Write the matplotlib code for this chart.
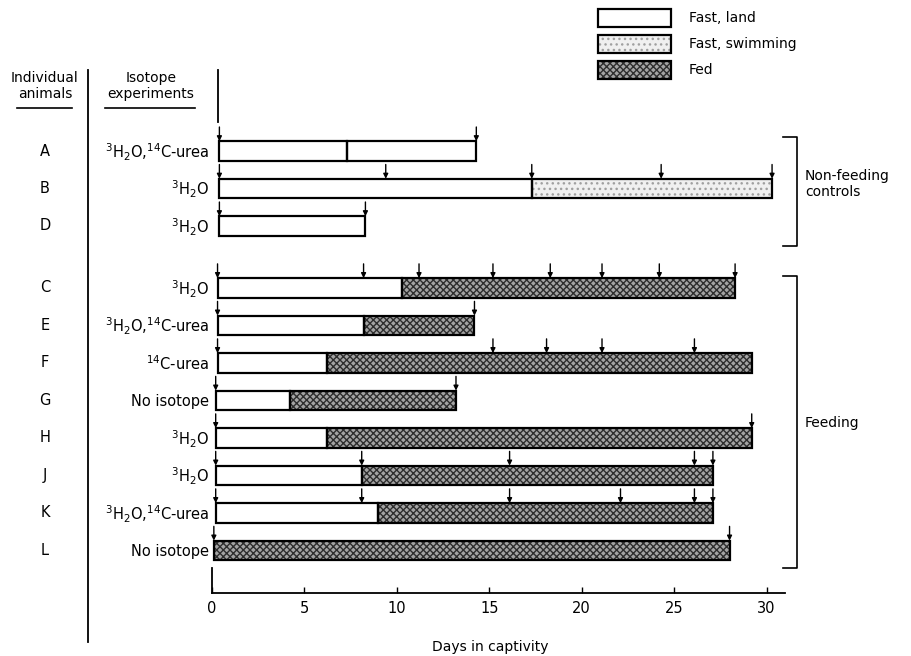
import matplotlib
matplotlib.use("Agg")
import matplotlib.pyplot as plt
from matplotlib.patches import Rectangle

plt.rcParams['font.family'] = ['DejaVu Sans']
plt.rcParams['mathtext.default'] = 'regular'

# ---------------- data ----------------
animals = ['A', 'B', 'D', 'C', 'E', 'F', 'G', 'H', 'J', 'K', 'L']
isotopes = ['$^3$H$_2$O,$^{14}$C-urea', '$^3$H$_2$O', '$^3$H$_2$O',
            '$^3$H$_2$O', '$^3$H$_2$O,$^{14}$C-urea', '$^{14}$C-urea',
            'No isotope', '$^3$H$_2$O', '$^3$H$_2$O',
            '$^3$H$_2$O,$^{14}$C-urea', 'No isotope']
row_pos = [0, 1, 2, 3.65, 4.65, 5.65, 6.65, 7.65, 8.65, 9.65, 10.65]

# segments per animal: (start day, end day, kind)
segments = [
    [(0.4, 7.3, 'land'), (7.3, 14.3, 'land')],
    [(0.4, 17.3, 'land'), (17.3, 30.3, 'swim')],
    [(0.4, 8.3, 'land')],
    [(0.3, 10.3, 'land'), (10.3, 28.3, 'fed')],
    [(0.3, 8.2, 'land'), (8.2, 14.2, 'fed')],
    [(0.3, 6.2, 'land'), (6.2, 29.2, 'fed')],
    [(0.2, 4.2, 'land'), (4.2, 13.2, 'fed')],
    [(0.2, 6.2, 'land'), (6.2, 29.2, 'fed')],
    [(0.2, 8.1, 'land'), (8.1, 27.1, 'fed')],
    [(0.2, 9.0, 'land'), (9.0, 27.1, 'fed')],
    [(0.1, 28.0, 'fed')],
]
# isotope injection / sampling arrows (days)
arrows = [
    [0.4, 14.3],
    [0.4, 9.4, 17.3, 24.3, 30.3],
    [0.4, 8.3],
    [0.3, 8.2, 11.2, 15.2, 18.3, 21.1, 24.2, 28.3],
    [0.3, 14.2],
    [0.3, 15.2, 18.1, 21.1, 26.1],
    [0.2, 13.2],
    [0.2, 29.2],
    [0.2, 8.1, 16.1, 26.1, 27.1],
    [0.2, 8.1, 16.1, 22.1, 26.1, 27.1],
    [0.1, 28.0],
]
legend_labels = ['Fast, land', 'Fast, swimming', 'Fed']
xticks = [0, 5, 10, 15, 20, 25, 30]

styles = {
    'land': dict(face='white', hatch=None, hcol='white'),
    'swim': dict(face='#f0f0f0', hatch='...', hcol='#a0a0a0'),
    'fed': dict(face='#a4a4a4', hatch='xxxxx', hcol='#2e2e2e'),
}

W, H = 912, 656
fig = plt.figure(figsize=(W / 100, H / 100), dpi=100)

# main axes in pixel placement
px_left, px_right, px_top, px_bot = 212, 785, 70, 593
ax = fig.add_axes([px_left / W, 1 - px_bot / H, (px_right - px_left) / W,
                   (px_bot - px_top) / H])
unit = 37.5
ytop = -2.16
ybot = ytop + (px_bot - px_top) / unit
ax.set_xlim(0, 31)
ax.set_ylim(ybot, ytop)
bh = 0.52


def draw_bar(a, y, x0, x1, kind, lw=1.6):
    st = styles[kind]
    a.barh(y, x1 - x0, left=x0, height=bh, color=st['face'],
           hatch=st['hatch'], edgecolor=st['hcol'], linewidth=0, zorder=2)
    a.barh(y, x1 - x0, left=x0, height=bh, fill=False,
           edgecolor='black', linewidth=lw, zorder=3)


for y, segs in zip(row_pos, segments):
    for x0, x1, kind in segs:
        draw_bar(ax, y, x0, x1, kind)

for y, arr in zip(row_pos, arrows):
    for xa in arr:
        ax.annotate('', xy=(xa, y - bh / 2), xytext=(xa, y - bh / 2 - 0.38),
                    arrowprops=dict(arrowstyle='-|>', color='black', lw=1.0,
                                    mutation_scale=7, shrinkA=0, shrinkB=0),
                    zorder=4)

# axes styling
for s in ['top', 'right', 'left']:
    ax.spines[s].set_visible(False)
ax.spines['bottom'].set_linewidth(1.3)
ax.set_xticks(xticks)
ax.set_xticklabels([str(t) for t in xticks], fontsize=10.5)
ax.tick_params(axis='x', direction='in', length=4, width=1, pad=6)
ax.set_yticks([])
ax.set_xlabel('Days in captivity', fontsize=10, labelpad=14)
ax.xaxis.set_label_coords(0.485, -0.09)
# short vertical pieces of the frame
ax.plot([0, 0], [ybot - 0.67, ybot], color='black', lw=1.3, clip_on=False)
ax.plot([0.32, 0.32], [ytop, ytop + 1.38], color='black', lw=1.3,
        clip_on=False)

# ------------- overlay in pixel coordinates -------------
ov = fig.add_axes([0, 0, 1, 1], facecolor='none')
ov.set_xlim(0, W)
ov.set_ylim(H, 0)
ov.axis('off')


def to_px_y(y):
    return px_top + (y - ytop) * unit


for name, iso, y in zip(animals, isotopes, row_pos):
    py = to_px_y(y)
    ov.text(45, py, name, ha='center', va='center', fontsize=10.5)
    ov.text(209, py + 1, iso, ha='right', va='center', fontsize=10.5)

ov.text(45, 86, 'Individual\nanimals', ha='center', va='center',
        fontsize=10, linespacing=1.15)
ov.plot([17, 72], [108, 108], color='black', lw=1.2)
ov.text(151, 86, 'Isotope\nexperiments', ha='center', va='center',
        fontsize=10, linespacing=1.15)
ov.plot([105, 195], [108, 108], color='black', lw=1.2)
ov.plot([88, 88], [70, 642], color='black', lw=1.3)

# brackets
bx = 797
for top, bot in [(137, 246), (276, 568)]:
    ov.plot([783, bx, bx, 783], [top, top, bot, bot], color='black', lw=1.2)
ov.text(805, 184, 'Non-feeding\ncontrols', ha='left', va='center',
        fontsize=10, linespacing=1.15)
ov.text(805, 423, 'Feeding', ha='left', va='center', fontsize=10)

# legend
leg_y = [18, 44, 70]
for lab, kind, ly in zip(legend_labels, ['land', 'swim', 'fed'], leg_y):
    st = styles[kind]
    ov.add_patch(Rectangle((598, ly - 9), 73, 18, facecolor=st['face'],
                           hatch=st['hatch'], edgecolor=st['hcol'], lw=0))
    ov.add_patch(Rectangle((598, ly - 9), 73, 18, fill=False,
                           edgecolor='black', lw=1.6))
    ov.text(689, ly, lab, ha='left', va='center', fontsize=10)

fig.savefig('out.png', dpi=100)
